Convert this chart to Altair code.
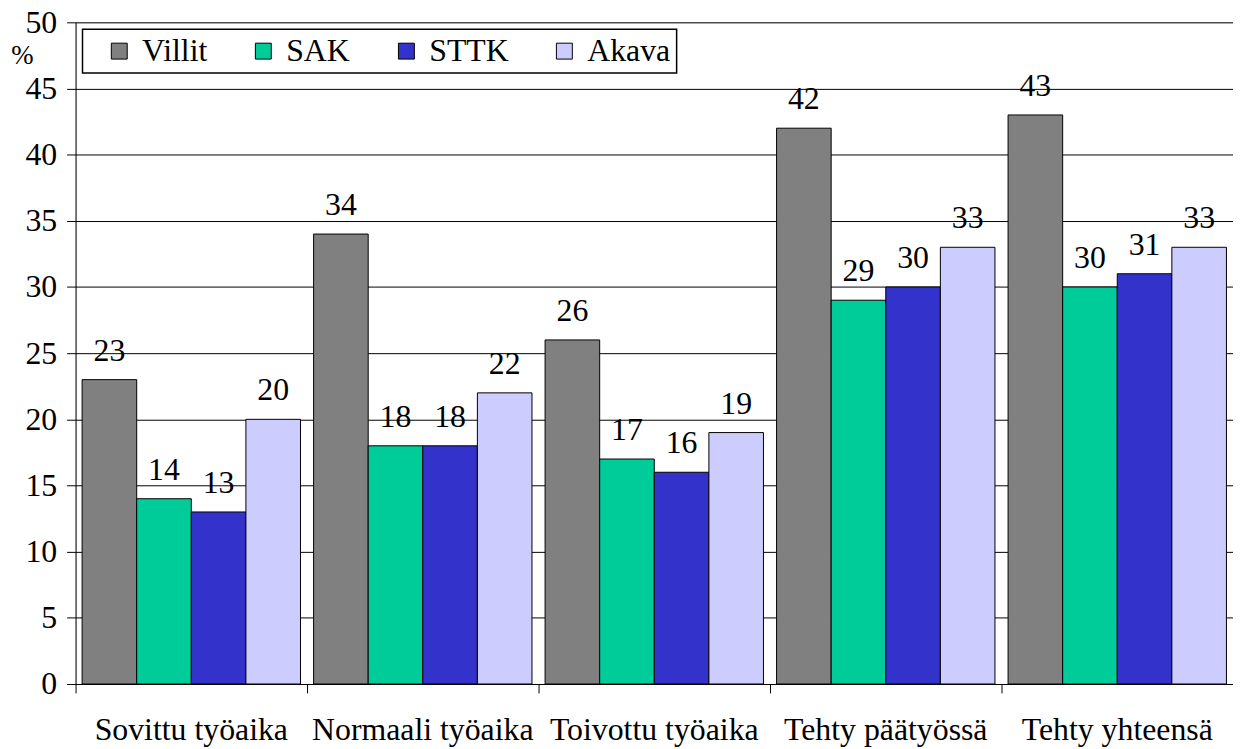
import altair as alt
import pandas as pd

categories = ["Sovittu työaika", "Normaali työaika", "Toivottu työaika", "Tehty päätyössä", "Tehty yhteensä"]
series = ["Villit", "SAK", "STTK", "Akava"]
colors = ["#808080", "#00CC99", "#3333CC", "#CCCCFF"]
villit = [23, 34, 26, 42, 43]
sak = [14, 18, 17, 29, 30]
sttk = [13, 18, 16, 30, 31]
akava = [20, 22, 19, 33, 33]
y_ticks = [0, 5, 10, 15, 20, 25, 30, 35, 40, 45, 50]

rows = []
for s, vals in zip(series, [villit, sak, sttk, akava]):
    for c, v in zip(categories, vals):
        rows.append({"cat": c, "series": s, "value": v})
df = pd.DataFrame(rows)

FONT = "'Times New Roman', 'Liberation Serif', 'DejaVu Serif', serif"

x_enc = alt.X(
    "cat:N",
    sort=categories,
    scale=alt.Scale(paddingInner=0, paddingOuter=0),
    axis=alt.Axis(
        title=None, labelAngle=0, labelFontSize=32, labelFont=FONT, labelColor="black",
        bandPosition=0, tickSize=9, tickColor="black", domainColor="black",
        labelPadding=22, labelLimit=400, grid=False,
    ),
)
xo_enc = alt.XOffset("series:N", sort=series, scale=alt.Scale(paddingInner=0, paddingOuter=0.12))
y_enc = alt.Y(
    "value:Q",
    scale=alt.Scale(domain=[0, 50], nice=False),
    axis=alt.Axis(
        values=y_ticks, title="%", titleAngle=0, titleX=-54, titleY=33, titleFont=FONT,
        titleFontSize=27, titleFontWeight="normal", titleAlign="center", titleBaseline="middle",
        labelFontSize=32, labelFont=FONT, labelColor="black", labelPadding=10,
        tickSize=9, tickColor="black", domainColor="black",
        grid=True, gridColor="black", gridWidth=1,
    ),
)

bars = alt.Chart(df).mark_bar(stroke="black", strokeWidth=1).encode(
    x=x_enc,
    xOffset=xo_enc,
    y=y_enc,
    color=alt.Color(
        "series:N",
        sort=series,
        scale=alt.Scale(domain=series, range=colors),
        legend=alt.Legend(
            title="\u00a0", titleOrient="left", titleFontSize=32, titleFont=FONT, titlePadding=15,
            orient="none", legendX=7, legendY=7, direction="horizontal",
            padding=6, fillColor="white", strokeColor="black",
            labelFontSize=32, labelFont=FONT, labelColor="black", labelOffset=7,
            symbolType="square", symbolSize=256, symbolStrokeColor="black", symbolStrokeWidth=1,
            symbolOpacity=1, columnPadding=40,
            labelExpr="datum.value === 'Akava' ? datum.label + '\u00a0\u00a0\u2009' : datum.label",
        ),
    ),
)

labels = alt.Chart(df).mark_text(
    baseline="alphabetic", dy=-19, fontSize=32, font=FONT, color="black"
).encode(
    x=alt.X("cat:N", sort=categories),
    xOffset=alt.XOffset("series:N", sort=series),
    y="value:Q",
    text="value:Q",
)

chart = alt.layer(bars, labels).properties(
    width=1165, height=666,
    autosize=alt.AutoSizeParams(type="none"),
    padding={"left": 68, "top": 12, "right": 0, "bottom": 62},
).configure_view(stroke=None).configure(background="white", font=FONT).configure_legend(strokeWidth=1.5)

chart.save("out.html", embed_options={"renderer": "svg", "actions": False})
